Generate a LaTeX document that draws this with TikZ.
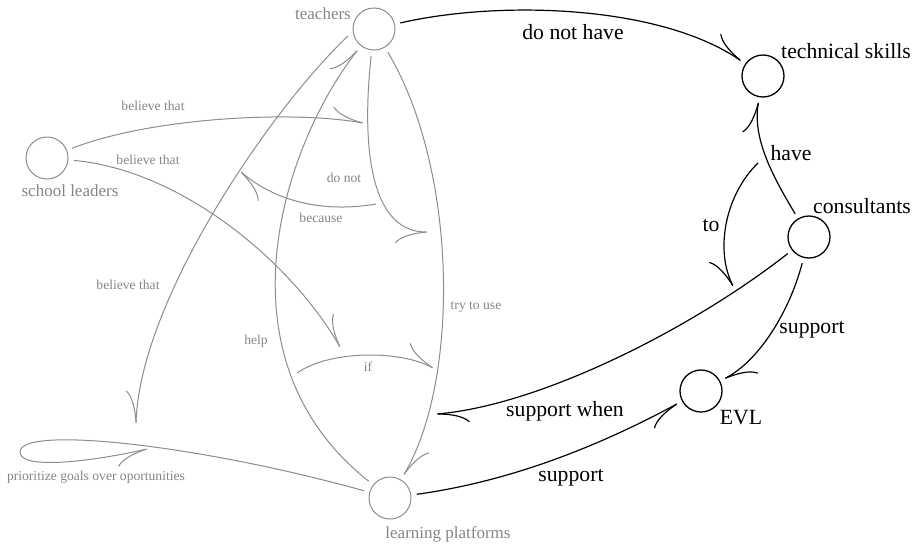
\documentclass[tikz,border=0pt]{standalone}
\usepackage{fontspec}
\setmainfont{Liberation Serif}
\usepackage{tikz}
\usetikzlibrary{arrows.meta}
\usetikzlibrary{calc}

\definecolor{faded}{gray}{0.55}
\definecolor{fadedtext}{gray}{0.52}

\begin{document}
\begin{tikzpicture}[x=1pt,y=-1pt]
        \tikzstyle{concept} = [circle, minimum size=42pt, inner sep=0pt, outer sep=6pt]
        \tikzstyle{grey concept} = [concept, draw=faded, line width=1pt]
        \tikzstyle{black concept} = [concept, draw=black, line width=1.3pt]
        \tikzstyle{grey caption} = [inner sep=0pt, text=fadedtext, font=\fontsize{17}{20}\selectfont]
        \tikzstyle{grey verb} = [inner sep=0pt, text=fadedtext, font=\fontsize{13.6}{16}\selectfont]
        \tikzstyle{black verb} = [inner sep=0pt, font=\fontsize{21.7}{26}\selectfont]
        \tikzstyle{grey link} = [draw=faded, line width=1pt, -{Computer Modern Rightarrow[harpoon, length=32pt, width=22pt]}]
        \tikzstyle{grey link swap} = [grey link, -{Computer Modern Rightarrow[harpoon, swap, length=32pt, width=22pt]}]
        \tikzstyle{black link} = [draw=black, line width=1.2pt, -{Computer Modern Rightarrow[harpoon, length=32pt, width=22pt]}]
        \tikzstyle{black link swap} = [black link, -{Computer Modern Rightarrow[harpoon, swap, length=32pt, width=22pt]}]

        \useasboundingbox (0,0) rectangle (923,549);

        \node[grey concept] (teachers) at (374,29) {};
        \node[grey concept] (leaders) at (47,158) {};
        \node[grey concept] (platforms) at (390,498) {};
        \node[black concept] (skills) at (763,76) {};
        \node[black concept] (consultants) at (809,237) {};
        \node[black concept] (evl) at (701,391) {};

        \node[grey caption] (teachers-text) at (323,14) {teachers};
        \node[grey caption] (leaders-text) at (70,191) {school leaders};
        \node[grey caption] (platforms-text) at (448,534) {learning platforms};
        \node[grey verb] (goals-text) at (96,477) {prioritize goals over oportunities};
        \node[black verb] (skills-text) at (846,51) {technical skills};
        \node[black verb] (consultants-text) at (862,206) {consultants};
        \node[black verb] (evl-text) at (741,418) {EVL};

        \coordinate (dnEnd) at (427,232);
        \coordinate (bl1End) at (363,123);
        \coordinate (bcStart) at (376,204);
        \coordinate (bcEnd) at (241,172);
        \coordinate (bl2End) at (340,347);
        \coordinate (ifStart) at (297,373);
        \coordinate (ifEnd) at (433,368);
        \coordinate (goalsA) at (136,423);
        \coordinate (goalsLoop) at (20,452);
        \coordinate (goalsB) at (147,449);
        \coordinate (toStart) at (758,163);
        \coordinate (toEnd) at (733,286);
        \coordinate (swEnd) at (437,414);

        \draw[grey link swap] (teachers) .. controls (360,160) and (375,232) .. (dnEnd);
        \draw[grey link] (leaders) .. controls (150,118) and (290,110) .. (bl1End);
        \draw[grey link] (bcStart) .. controls (330,212) and (280,205) .. (bcEnd);
        \draw[grey link swap] (teachers.195) .. controls (270,110) and (140,300) .. (goalsA);
        \draw[grey link] (platforms) .. controls (215,360) and (280,150) .. (teachers);
        \draw[grey link] (leaders) .. controls (180,170) and (290,260) .. (bl2End);
        \draw[grey link] (ifStart) .. controls (330,350) and (400,350) .. (ifEnd);
        \draw[grey link] (teachers) .. controls (458,170) and (460,380) .. (platforms);
        \draw[grey link swap] (platforms) .. controls (200,445) and (20,425) .. (goalsLoop)
                .. controls (20,470) and (90,462) .. (goalsB);

        \draw[black link] (teachers) .. controls (500,0) and (660,5) .. (skills);
        \draw[black link] (consultants) .. controls (775,180) and (752,140) .. (skills);
        \draw[black link swap] (toStart) .. controls (725,195) and (715,250) .. (toEnd);
        \draw[black link] (consultants) .. controls (690,330) and (540,405) .. (swEnd);
        \draw[black link] (consultants) .. controls (790,310) and (760,360) .. (evl);
        \draw[black link swap] (platforms) .. controls (520,480) and (610,440) .. (evl);

        \node[grey verb] (bl1-text) at (153,106) {believe that};
        \node[grey verb] (bl2-text) at (148,160) {believe that};
        \node[grey verb] (bl3-text) at (128,285) {believe that};
        \node[grey verb] (dn-text) at (344,178) {do not};
        \node[grey verb] (bc-text) at (321,218) {because};
        \node[grey verb] (help-text) at (256,341) {help};
        \node[grey verb] (if-text) at (368,367) {if};
        \node[grey verb] (try-text) at (476,307) {try to use};
        \node[black verb] (dnh-text) at (573,32) {do not have};
        \node[black verb] (have-text) at (791,153) {have};
        \node[black verb] (to-text) at (711,225) {to};
        \node[black verb] (sw-text) at (565,411) {support when};
        \node[black verb] (sup1-text) at (812,330) {support};
        \node[black verb] (sup2-text) at (571,478) {support};
\end{tikzpicture}
\end{document}
